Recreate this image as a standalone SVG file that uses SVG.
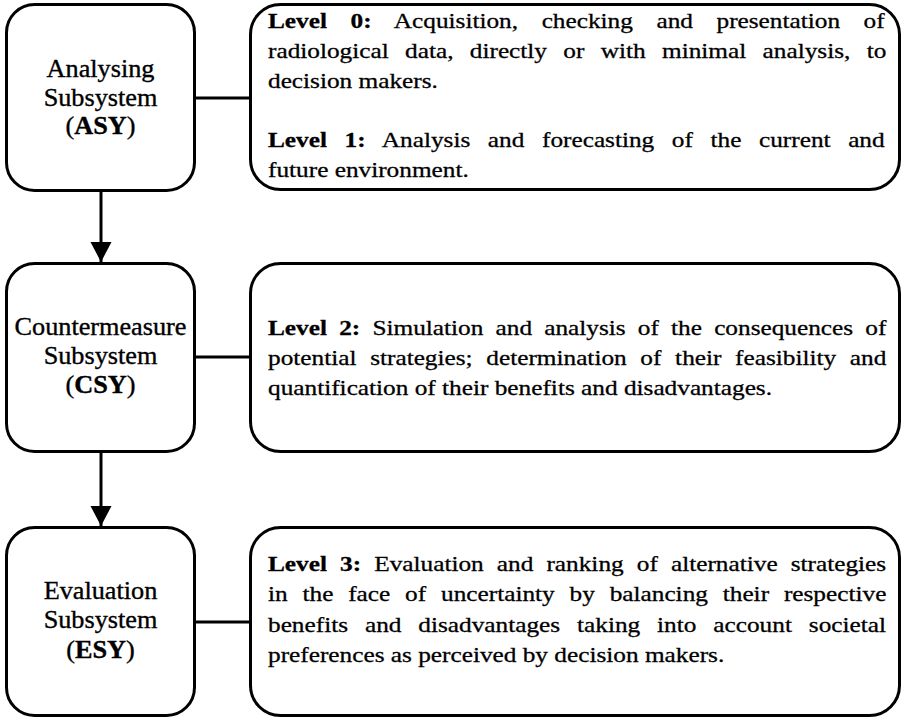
<svg xmlns="http://www.w3.org/2000/svg" width="902" height="718" viewBox="0 0 902 718">
<style>
.box{fill:#fff;stroke:#000;stroke-width:3}
.conn{stroke:#000;stroke-width:3;fill:none}
.lt{font-family:'Times New Roman','Liberation Serif',serif;font-size:25px;text-anchor:middle;fill:#000;stroke:#000;stroke-width:0.35}
.rt{font-family:'Times New Roman','Liberation Serif',serif;font-size:22px;fill:#000;stroke:#000;stroke-width:0.3}
.b{font-weight:bold}
</style>
<defs>
<marker id="ah" markerUnits="userSpaceOnUse" markerWidth="21" markerHeight="22" refX="20" refY="10.5" orient="auto">
<path d="M0,0 L20,10.5 L0,21 z" fill="#000"/>
</marker>
</defs>
<rect width="902" height="718" fill="#fff"/>
<g id="connectors">
<line class="conn" x1="195" y1="98" x2="250" y2="98"/>
<line class="conn" x1="195" y1="357" x2="250" y2="357"/>
<line class="conn" x1="195" y1="622" x2="250" y2="622"/>
<line class="conn" x1="101" y1="191" x2="101" y2="262" marker-end="url(#ah)"/>
<line class="conn" x1="101" y1="452" x2="101" y2="526" marker-end="url(#ah)"/>
</g>
<g id="asy">
<rect class="box" x="6.5" y="4.5" width="188" height="186" rx="28"/>
<g transform="translate(100.5,0) scale(1.05,1)">
<text class="lt" x="0" y="77">Analysing</text>
<text class="lt" x="0" y="106">Subsystem</text>
<text class="lt" x="0" y="134">(<tspan class="b">ASY</tspan>)</text>
</g>
</g>
<g id="csy">
<rect class="box" x="6.5" y="263.5" width="188" height="188" rx="28"/>
<g transform="translate(100.5,0) scale(1.05,1)">
<text class="lt" x="0" y="335">Countermeasure</text>
<text class="lt" x="0" y="364">Subsystem</text>
<text class="lt" x="0" y="393">(<tspan class="b">CSY</tspan>)</text>
</g>
</g>
<g id="esy">
<rect class="box" x="6.5" y="527.5" width="188" height="188" rx="28"/>
<g transform="translate(100.5,0) scale(1.05,1)">
<text class="lt" x="0" y="599">Evaluation</text>
<text class="lt" x="0" y="628">Subsystem</text>
<text class="lt" x="0" y="658">(<tspan class="b">ESY</tspan>)</text>
</g>
</g>
<g id="level01">
<rect class="box" x="250.5" y="4.5" width="649" height="185" rx="30"/>
<g transform="translate(268,0) scale(1.15,1)">
<text class="rt" x="0" y="28" word-spacing="15"><tspan class="b">Level 0:</tspan> Acquisition, checking and presentation of</text>
<text class="rt" x="0" y="58" word-spacing="8.7">radiological data, directly or with minimal analysis, to</text>
<text class="rt" x="0" y="88">decision makers.</text>
<text class="rt" x="0" y="147" word-spacing="9.8"><tspan class="b">Level 1:</tspan> Analysis and forecasting of the current and</text>
<text class="rt" x="0" y="177">future environment.</text>
</g>
</g>
<g id="level2">
<rect class="box" x="250.5" y="263.5" width="649" height="188" rx="30"/>
<g transform="translate(268,0) scale(1.15,1)">
<text class="rt" x="0" y="335" word-spacing="5.1"><tspan class="b">Level 2:</tspan> Simulation and analysis of the consequences of</text>
<text class="rt" x="0" y="365" word-spacing="6.4">potential strategies; determination of their feasibility and</text>
<text class="rt" x="0" y="395">quantification of their benefits and disadvantages.</text>
</g>
</g>
<g id="level3">
<rect class="box" x="250.5" y="527.5" width="649" height="188" rx="30"/>
<g transform="translate(268,0) scale(1.15,1)">
<text class="rt" x="0" y="571" word-spacing="5.9"><tspan class="b">Level 3:</tspan> Evaluation and ranking of alternative strategies</text>
<text class="rt" x="0" y="601" word-spacing="7.4">in the face of uncertainty by balancing their respective</text>
<text class="rt" x="0" y="632" word-spacing="9.2">benefits and disadvantages taking into account societal</text>
<text class="rt" x="0" y="662">preferences as perceived by decision makers.</text>
</g>
</g>
</svg>
